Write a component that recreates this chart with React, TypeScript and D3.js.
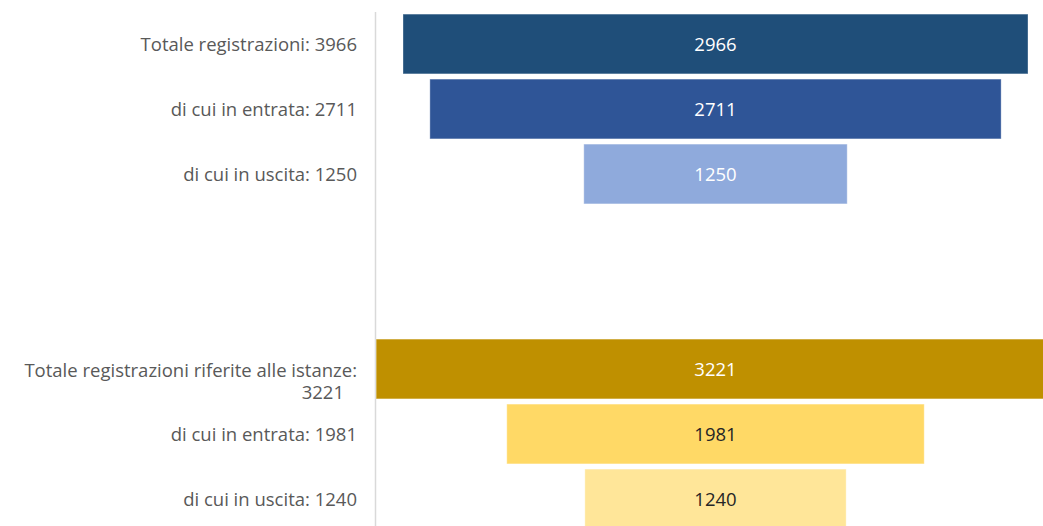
import React, { useEffect, useRef } from "react";
import * as d3 from "d3";

const rows: string[] = [
  "Totale registrazioni: 3966",
  "di cui in entrata: 2711",
  "di cui in uscita: 1250",
  "__gap1",
  "__gap2",
  "Totale registrazioni riferite alle istanze: 3221",
  "di cui in entrata: 1981",
  "di cui in uscita: 1240",
];
const values: (number | null)[] = [2966, 2711, 1250, null, null, 3221, 1981, 1240];
const barColors: string[] = ["#1F4E79", "#2F5597", "#8FAADC", "", "", "#BF9000", "#FFD966", "#FFE699"];
const valueTextColors: string[] = ["#ffffff", "#ffffff", "#ffffff", "", "", "#ffffff", "#262626", "#262626"];

const W = 1043;
const H = 526;
const FONT = "'Open Sans', sans-serif";

export default function App() {
  const ref = useRef<SVGSVGElement | null>(null);

  useEffect(() => {
    const svg = d3.select(ref.current);
    svg.selectAll("*").remove();

    const y = d3.scaleBand<string>().domain(rows).range([11.5, 531.5]).paddingInner(0.08).paddingOuter(0.04);
    const ref0 = values[0] as number;
    const x = d3.scaleLinear().domain([-ref0 / 2, ref0 / 2]).range([403, 1028]);

    const data = rows
      .map((r, i) => ({ label: r, v: values[i], color: barColors[i], tc: valueTextColors[i] }))
      .filter((d) => d.v !== null) as { label: string; v: number; color: string; tc: string }[];

    // axis line
    svg.append("line")
      .attr("x1", 375.5).attr("x2", 375.5)
      .attr("y1", 12).attr("y2", H)
      .attr("stroke", "#d9d9d9").attr("stroke-width", 1.5);

    const g = svg.append("g");
    g.selectAll("rect").data(data).enter().append("rect")
      .attr("x", (d) => x(-d.v / 2))
      .attr("width", (d) => x(d.v / 2) - x(-d.v / 2))
      .attr("y", (d) => y(d.label) as number)
      .attr("height", y.bandwidth())
      .attr("fill", (d) => d.color)
      .attr("stroke", "#ffffff").attr("stroke-opacity", 0.35).attr("stroke-width", 1);

    g.selectAll("text.val").data(data).enter().append("text")
      .attr("class", "val")
      .attr("x", x(0))
      .attr("y", (d) => (y(d.label) as number) + y.bandwidth() / 2)
      .attr("dy", "0.4em")
      .attr("text-anchor", "middle")
      .attr("font-family", FONT)
      .attr("font-size", 18.5)
      .attr("fill", (d) => d.tc)
      .text((d) => String(d.v));

    // category labels with wrapping
    const maxW = 356;
    data.forEach((d) => {
      const cy = (y(d.label) as number) + y.bandwidth() / 2;
      const t = svg.append("text")
        .attr("text-anchor", "end")
        .attr("font-family", FONT)
        .attr("font-size", 18.5)
        .attr("fill", "#595959");
      const words = d.label.split(" ");
      let line: string[] = [];
      let ts = t.append("tspan").attr("x", 357).attr("y", cy).attr("dy", "0.4em");
      let wrapped = false;
      const first = ts;
      words.forEach((w) => {
        line.push(w);
        ts.text(line.join(" "));
        const node = ts.node() as SVGTSpanElement;
        if (node.getComputedTextLength() > maxW && line.length > 1) {
          line.pop();
          ts.text(line.join(" "));
          line = [w];
          wrapped = true;
          ts = t.append("tspan").attr("x", 344).attr("dy", 22).text(w);
        }
      });
      if (wrapped) first.attr("dy", "0.42em");
    });
  }, []);

  return (
    <svg
      ref={ref}
      width={W}
      height={H}
      style={{ position: "absolute", left: 0, top: 0, background: "#ffffff" }}
    />
  );
}
